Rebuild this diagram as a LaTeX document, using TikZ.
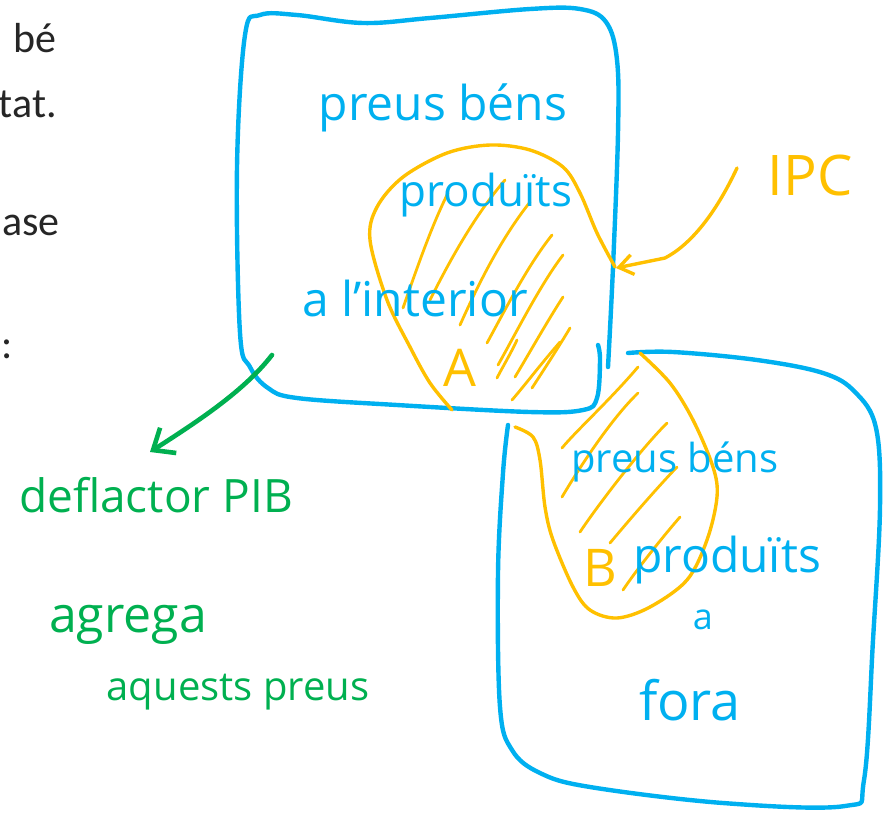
\documentclass[tikz,border=0pt]{standalone}
\usepackage{fontspec}
\setmainfont{Open Sans}
\newfontfamily\docfont{Carlito}
\usetikzlibrary{arrows.meta}
\definecolor{penblue}{HTML}{00B0F0}
\definecolor{penyellow}{HTML}{FFC000}
\definecolor{pengreen}{HTML}{00B050}
\tikzset{
	pen/.style={line width=4.4pt, line cap=round, line join=round},
	hatch/.style={penyellow, line width=2.8pt, line cap=round},
	bluetext/.style={penblue, inner sep=0pt, font=\fontsize{48}{56}\selectfont},
	greentext/.style={pengreen, inner sep=0pt, font=\fontsize{46}{54}\selectfont},
	yellowtext/.style={penyellow, inner sep=0pt, font=\fontsize{52}{60}\selectfont},
	doctext/.style={black!85, inner sep=0pt, anchor=base east, font=\docfont\fontsize{42}{50}\selectfont}
}

\begin{document}
\begin{tikzpicture}[x=1pt, y=-1pt]
	\useasboundingbox (0, 0) rectangle (883, 815);
	
	\node[doctext] (bgBe) at (57, 52) {bé};
	\node[doctext] (bgTat) at (57, 117) {tat.};
	\node[doctext] (bgAse) at (60, 235) {ase};
	\node[doctext, anchor=base west] (bgColon) at (1, 358) {:};
	
	\draw[pen, penblue] plot[smooth, tension=0.6] coordinates {(608, 367) (613, 267) (618, 133) (617, 60) (606, 22) (580, 9) (530, 9) (430, 18) (363, 23) (297, 15) (260, 15) (245, 35) (237, 167) (240, 333) (250, 367) (268, 388) (297, 398) (397, 405) (530, 412) (583, 410) (597, 398) (600, 360) (598, 345)};
	\draw[pen, penblue] plot[smooth, tension=0.6] coordinates {(628, 353) (673, 352) (757, 360) (823, 373) (855, 392) (876, 428) (880, 507) (873, 640) (864, 780) (845, 806) (723, 803) (590, 787) (540, 773) (512, 750) (500, 707) (498, 573) (503, 473) (508, 425)};
	
	\draw[pen, penyellow, line width=3.4pt] plot[smooth, tension=0.55] coordinates {(452, 410) (430, 383) (410, 347) (387, 300) (370, 240) (377, 207) (403, 177) (447, 153) (490, 145) (530, 150) (563, 167) (580, 193) (597, 233) (615, 267)};
	\draw[pen, penyellow, line width=3.4pt] plot[smooth, tension=0.55] coordinates {(640, 353) (670, 383) (693, 420) (713, 467) (717, 497) (707, 540) (687, 580) (650, 607) (617, 618) (590, 610) (573, 587) (553, 540) (545, 507) (540, 460) (533, 437) (515, 427)};
	
	\draw[hatch] (403, 308) .. controls (418, 265) and (432, 225) .. (448, 193);
	\draw[hatch] (430, 300) .. controls (450, 260) and (475, 215) .. (505, 180);
	\draw[hatch] (460, 325) .. controls (478, 285) and (500, 240) .. (530, 202);
	\draw[hatch] (487, 343) .. controls (505, 310) and (528, 265) .. (552, 235);
	\draw[hatch] (498, 365) .. controls (515, 335) and (540, 285) .. (563, 255);
	\draw[hatch] (515, 377) .. controls (530, 352) and (548, 320) .. (563, 297);
	\draw[hatch] (532, 388) .. controls (545, 368) and (558, 348) .. (570, 328);
	\draw[hatch] (497, 378) .. controls (502, 368) and (510, 355) .. (517, 340);
	\draw[hatch] (512, 400) .. controls (525, 385) and (540, 365) .. (560, 342);
	
	\draw[hatch] (562, 448) .. controls (575, 432) and (610, 400) .. (638, 367);
	\draw[hatch] (562, 497) .. controls (578, 470) and (610, 420) .. (638, 393);
	\draw[hatch] (580, 532) .. controls (598, 505) and (640, 450) .. (667, 423);
	\draw[hatch] (610, 543) .. controls (625, 525) and (655, 490) .. (677, 467);
	\draw[hatch] (623, 590) .. controls (635, 572) and (660, 540) .. (680, 517);
	
	\node[bluetext] (intPreus) at (443, 108) {preus béns};
	\node[bluetext, font=\fontsize{44}{52}\selectfont] (intProd) at (486, 195) {produïts};
	\node[bluetext] (intLloc) at (415, 298) {a l'interior};
	\node[yellowtext] (labelA) at (460, 368) {A};
	
	\node[bluetext, font=\fontsize{40}{48}\selectfont] (extPreus) at (675, 462) {preus béns};
	\node[bluetext] (extProd) at (727, 560) {produïts};
	\node[bluetext, font=\fontsize{36}{42}\selectfont] (extA) at (703, 620) {a};
	\node[bluetext, font=\fontsize{54}{60}\selectfont] (extFora) at (690, 700) {fora};
	\node[yellowtext] (labelB) at (600, 568) {B};
	
	\node[yellowtext, font=\fontsize{56}{64}\selectfont] (ipc) at (810, 175) {IPC};
	\coordinate (ipcTail) at (737, 168);
	\coordinate (ipcTip) at (616, 268);
	\draw[pen, penyellow, line width=3.4pt, -{Straight Barb[length=14pt, width=20pt]}] (ipcTail) .. controls (715, 215) and (690, 245) .. (665, 258) -- (ipcTip);
	
	\node[greentext] (deflPIB) at (156, 495) {deflactor PIB};
	\node[greentext, font=\fontsize{50}{58}\selectfont] (deflAgr) at (128, 625) {agrega};
	\node[greentext, font=\fontsize{40}{48}\selectfont] (deflPreus) at (238, 692) {aquests preus};
	\coordinate (deflTail) at (272, 355);
	\coordinate (deflTip) at (150, 452);
	\draw[pen, pengreen, line width=4.6pt, -{Straight Barb[length=18pt, width=30pt]}] (deflTail) .. controls (245, 390) and (200, 420) .. (deflTip);
\end{tikzpicture}
\end{document}
